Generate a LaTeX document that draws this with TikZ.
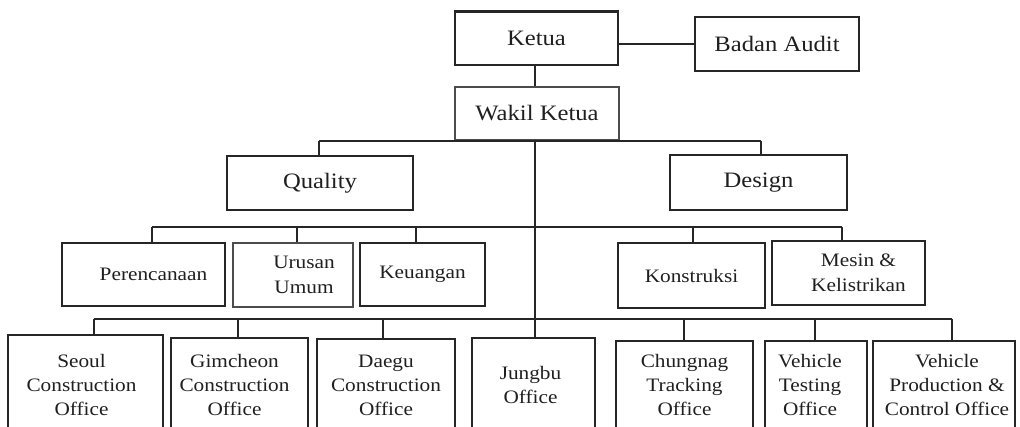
\documentclass[tikz,border=0pt]{standalone}
\usepackage{fontspec}
\setmainfont[FakeStretch=1.12]{Liberation Serif}
\begin{document}
\begin{tikzpicture}[x=1pt,y=-1pt,
  box/.style={draw=black!85, line width=1.5pt, inner sep=0pt, align=center, text=black!88},
  big/.style={box, font=\fontsize{22}{26}\selectfont},
  mid/.style={box, font=\fontsize{19}{25}\selectfont},
  low/.style={box, font=\fontsize{19}{24}\selectfont},
  link/.style={line width=1.8pt, black!85},
  bus/.style={line width=2.5pt, black!85}]
\useasboundingbox (0,0) rectangle (1020,426);

% top management
\node[big, minimum width=163, minimum height=53] (ketua) at (536.5,38.5) {Ketua};
\node[big, minimum width=164, minimum height=54] (audit) at (777,44) {Badan Audit};
\node[big, minimum width=164, minimum height=53, draw=black!70, line width=1.2pt] (wakil) at (537,113.5) {Wakil Ketua};
\draw[line width=2.4pt, black!85] (ketua.north west) -- (ketua.north east);

% divisions
\node[big, minimum width=186, minimum height=54] (quality) at (320,183) {Quality};
\node[big, minimum width=177, minimum height=55] (design) at (758.5,182.5) {Design};

% departments
\node[mid, minimum width=163, minimum height=63] (pere) at (143.5,274.5) {\hspace*{20pt}Perencanaan};
\node[mid, minimum width=120, minimum height=64, draw=black!70] (urusan) at (293,275) {\hspace*{22pt}Urusan\\\hspace*{22pt}Umum};
\node[mid, minimum width=125, minimum height=63] (keu) at (422.5,274.5) {Keuangan};
\node[mid, minimum width=147, minimum height=65] (kons) at (691.5,275.5) {Konstruksi};
\node[mid, minimum width=153, minimum height=64] (mesin) at (848.5,273) {\hspace*{20pt}Mesin \&\\\hspace*{20pt}Kelistrikan};

% offices
\node[low, minimum width=155, minimum height=100] (seoul) at (85.5,385) {\hspace*{-8pt}Seoul\\\hspace*{-8pt}Construction\\\hspace*{-8pt}Office};
\node[low, minimum width=137, minimum height=94] (gimcheon) at (239.5,385) {\hspace*{-10pt}Gimcheon\\\hspace*{-10pt}Construction\\\hspace*{-10pt}Office};
\node[low, minimum width=138, minimum height=92] (daegu) at (386,385) {Daegu\\Construction\\Office};
\node[low, minimum width=123, minimum height=94] (jungbu) at (533.5,385) {\hspace*{-6pt}Jungbu\\\hspace*{-6pt}Office};
\node[low, minimum width=137, minimum height=88] (chungnag) at (684.5,385) {Chungnag\\Tracking\\Office};
\node[low, minimum width=102, minimum height=88] (vtest) at (816,385) {\hspace*{-12pt}Vehicle\\\hspace*{-12pt}Testing\\\hspace*{-12pt}Office};
\node[low, minimum width=142, minimum height=88] (vprod) at (944,385) {\hspace*{6pt}Vehicle\\\hspace*{6pt}Production \&\\\hspace*{6pt}Control Office};

% bus levels
\coordinate (b1) at (535,141);
\coordinate (b2) at (535,227);
\coordinate (b3) at (535,319);

% drop points on the boxes
\coordinate (kw) at ([xshift=-1.5pt]ketua.south);
\coordinate (qd) at ([xshift=-1pt]quality.north);
\coordinate (dd) at ([xshift=2.5pt]design.north);
\coordinate (pd) at ([xshift=8.5pt]pere.north);
\coordinate (ud) at ([xshift=4pt]urusan.north);
\coordinate (kd) at ([xshift=-6.5pt]keu.north);
\coordinate (cd) at ([xshift=1.5pt]kons.north);
\coordinate (md) at ([xshift=-6.5pt]mesin.north);
\coordinate (sd) at ([xshift=8.5pt]seoul.north);
\coordinate (gd) at ([xshift=-1.5pt]gimcheon.north);
\coordinate (ed) at ([xshift=-3pt]daegu.north);
\coordinate (td) at ([xshift=-0.5pt]chungnag.north);
\coordinate (vd) at ([xshift=-1pt]vtest.north);
\coordinate (pd2) at ([xshift=8pt]vprod.north);

% connectors
\draw[link] (ketua.east |- audit.west) -- (audit.west);
\draw[link] (kw) -- (kw |- wakil.north);
\draw[link] (kw |- wakil.south) -- (kw |- jungbu.north);

\draw[bus] (qd |- b1) -- (dd |- b1);
\draw[link] (qd |- b1) -- (qd);
\draw[link] (dd |- b1) -- (dd);

\draw[bus] (pd |- b2) -- (md |- b2);
\foreach \p in {pd,ud,kd,cd,md}
  \draw[link] (\p |- b2) -- (\p);

\draw[bus] (sd |- b3) -- (pd2 |- b3);
\foreach \p in {sd,gd,ed,td,vd,pd2}
  \draw[link] (\p |- b3) -- (\p);
\end{tikzpicture}
\end{document}
